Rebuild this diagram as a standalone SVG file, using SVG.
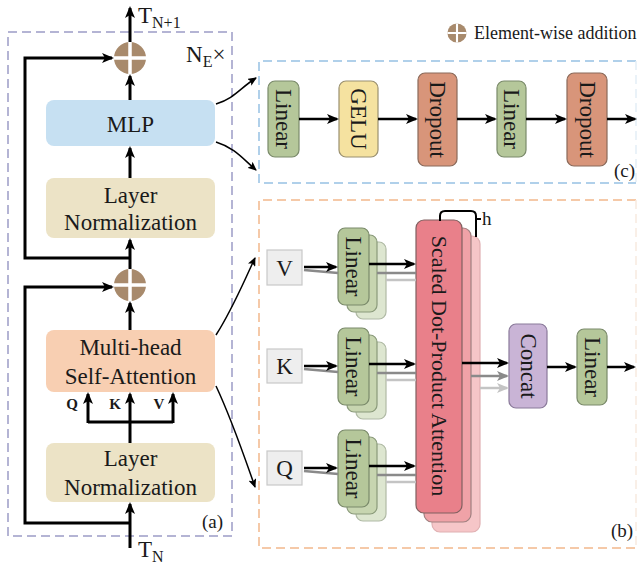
<svg xmlns="http://www.w3.org/2000/svg" width="638" height="570" viewBox="0 0 638 570" font-family="'Liberation Serif', 'Times New Roman', serif">
<style>
text{font-family:"Liberation Serif","Times New Roman",serif;fill:#1a1a1a}
.t20{font-size:23px}
.t18{font-size:19px}
.vt{font-size:23px;text-anchor:middle;dominant-baseline:central}
.ln{stroke:#000;stroke-width:3;fill:none}
.ln2{stroke:#000;stroke-width:2.5;fill:none}
.g1{stroke:#8a8a8a;stroke-width:2.5;fill:none}
.g2{stroke:#c4c4c4;stroke-width:2.5;fill:none}
.cv{stroke:#000;stroke-width:1.5;fill:none}
.lin{fill:#b5c79a;stroke:#7a8a6a;stroke-width:1.2}
.lin2{fill:#c7d5b0;stroke:#8a9a7a;stroke-width:1.2}
.lin3{fill:#dde6d0;stroke:#b0baa5;stroke-width:1.2}
</style>
<defs>
<marker id="ah" markerWidth="12" markerHeight="10" refX="10" refY="5" orient="auto" markerUnits="userSpaceOnUse"><path d="M0,0 L12,5 L0,10 L3,5 z" fill="#000"/></marker>
<marker id="ahg" markerWidth="12" markerHeight="10" refX="10" refY="5" orient="auto" markerUnits="userSpaceOnUse"><path d="M0,0 L12,5 L0,10 L3,5 z" fill="#8a8a8a"/></marker>
<marker id="ahl" markerWidth="12" markerHeight="10" refX="10" refY="5" orient="auto" markerUnits="userSpaceOnUse"><path d="M0,0 L12,5 L0,10 L3,5 z" fill="#c4c4c4"/></marker>
<marker id="ahs" markerWidth="9" markerHeight="8" refX="8" refY="4" orient="auto" markerUnits="userSpaceOnUse"><path d="M0,0 L9,4 L0,8 L2,4 z" fill="#000"/></marker>
<g id="plus"><circle r="16" fill="#a88a6c"/><path d="M-16,0 H16 M0,-16 V16" stroke="#fff" stroke-width="3.5"/></g>
</defs>

<!-- panel boxes -->
<rect id="panel-a" x="8" y="32" width="224" height="504" fill="none" stroke="#b4b4d4" stroke-width="2" stroke-dasharray="9 5"/>
<path id="panel-c" d="M636,61 H259 V183 H636" fill="none" stroke="#b0d0ea" stroke-width="2" stroke-dasharray="9 5"/>
<line x1="636" y1="61" x2="636" y2="183" stroke="#e4eef6" stroke-width="1.5" stroke-dasharray="9 5"/>
<path id="panel-b" d="M636,200 H259 V548 H636" fill="none" stroke="#f5c9a8" stroke-width="2" stroke-dasharray="9 5"/>
<line x1="636" y1="200" x2="636" y2="548" stroke="#f8eadf" stroke-width="1.5" stroke-dasharray="9 5"/>

<!-- legend -->
<g id="legend">
<use href="#plus" transform="translate(457,33) scale(0.6)"/>
<text x="474" y="39" style="font-size:18px">Element-wise addition</text>
</g>

<!-- panel a nodes -->
<g id="add-top"><use href="#plus" transform="translate(130,58)"/></g>
<g id="add-mid"><use href="#plus" transform="translate(130,285)"/></g>
<g id="mlp"><rect x="46" y="100" width="169" height="46" rx="8" fill="#c6e0f2"/><text x="130.5" y="132" class="t20" text-anchor="middle">MLP</text></g>
<g id="ln-top"><rect x="46" y="178" width="169" height="60" rx="8" fill="#ece3c6"/><text x="130.5" y="203" class="t20" text-anchor="middle">Layer</text><text x="130.5" y="230" class="t20" text-anchor="middle">Normalization</text></g>
<g id="mhsa"><rect x="46" y="330" width="169" height="62" rx="8" fill="#f8cfb2"/><text x="130.5" y="355" class="t20" text-anchor="middle">Multi-head</text><text x="130.5" y="384" class="t20" text-anchor="middle">Self-Attention</text></g>
<g id="ln-bot"><rect x="46" y="443" width="169" height="59" rx="8" fill="#ece3c6"/><text x="130.5" y="466" class="t20" text-anchor="middle">Layer</text><text x="130.5" y="495" class="t20" text-anchor="middle">Normalization</text></g>
<g id="labels-a">
<text x="138" y="23" class="t20">T<tspan dy="5" style="font-size:16px">N+1</tspan></text>
<text x="186" y="62" class="t20">N<tspan dy="5" style="font-size:16px">E</tspan><tspan dy="-5">×</tspan></text>
<text x="138" y="557" class="t20">T<tspan dy="5" style="font-size:16px">N</tspan></text>
<text x="202" y="528" class="t18">(a)</text>
<text x="72" y="409" text-anchor="middle" style="font-size:15px;font-weight:bold">Q</text>
<text x="115" y="409" text-anchor="middle" style="font-size:15px;font-weight:bold">K</text>
<text x="159" y="409" text-anchor="middle" style="font-size:15px;font-weight:bold">V</text>
</g>

<!-- panel c nodes -->
<g id="c-linear1"><rect x="268" y="81" width="31" height="76" rx="7" class="lin"/><text class="vt" transform="translate(283.5,119) rotate(90)">Linear</text></g>
<g id="c-gelu"><rect x="339" y="81" width="39" height="76" rx="7" fill="#f5e2a0" stroke="#9a9070" stroke-width="1.2"/><text class="vt" transform="translate(358.5,119) rotate(90)">GELU</text></g>
<g id="c-dropout1"><rect x="418" y="73" width="39" height="93" rx="7" fill="#d8957a" stroke="#8a6a5a" stroke-width="1.2"/><text class="vt" transform="translate(437.5,119.5) rotate(90)">Dropout</text></g>
<g id="c-linear2"><rect x="497" y="81" width="29" height="76" rx="7" class="lin"/><text class="vt" transform="translate(511.5,119) rotate(90)">Linear</text></g>
<g id="c-dropout2"><rect x="567" y="73" width="40" height="93" rx="7" fill="#d8957a" stroke="#8a6a5a" stroke-width="1.2"/><text class="vt" transform="translate(587,119.5) rotate(90)">Dropout</text></g>
<text x="614" y="177" class="t18">(c)</text>

<!-- panel b nodes -->
<g id="b-v"><rect x="267" y="250" width="35" height="35" fill="#eeeeee" stroke="#c8c8c8" stroke-width="1.2"/><text x="284.5" y="276" class="t20" text-anchor="middle">V</text></g>
<g id="b-k"><rect x="267" y="349" width="35" height="34" fill="#eeeeee" stroke="#c8c8c8" stroke-width="1.2"/><text x="284.5" y="374" class="t20" text-anchor="middle">K</text></g>
<g id="b-q"><rect x="267" y="451" width="35" height="34" fill="#eeeeee" stroke="#c8c8c8" stroke-width="1.2"/><text x="284.5" y="476" class="t20" text-anchor="middle">Q</text></g>

<g id="b-linear-v">
<rect x="356" y="242" width="30" height="77" rx="7" class="lin3"/>
<rect x="347" y="235" width="30" height="77" rx="7" class="lin2"/>
<rect x="338" y="228" width="31" height="77" rx="7" class="lin"/>
<text class="vt" transform="translate(353.5,266.5) rotate(90)">Linear</text>
</g>
<g id="b-linear-k">
<rect x="356" y="342" width="30" height="77" rx="7" class="lin3"/>
<rect x="347" y="335" width="30" height="77" rx="7" class="lin2"/>
<rect x="338" y="328" width="31" height="77" rx="7" class="lin"/>
<text class="vt" transform="translate(353.5,366.5) rotate(90)">Linear</text>
</g>
<g id="b-linear-q">
<rect x="356" y="444" width="30" height="77" rx="7" class="lin3"/>
<rect x="347" y="437" width="30" height="77" rx="7" class="lin2"/>
<rect x="338" y="430" width="31" height="77" rx="7" class="lin"/>
<text class="vt" transform="translate(353.5,468.5) rotate(90)">Linear</text>
</g>

<g id="b-sdpa">
<rect x="432" y="236" width="48" height="296" rx="8" fill="#f6c6c8" stroke="#e0b0b2" stroke-width="1.2"/>
<rect x="424" y="228" width="47" height="294" rx="8" fill="#f0a2a7" stroke="#a08080" stroke-width="1.2"/>
<rect x="416" y="220" width="46" height="293" rx="8" fill="#e9808a" stroke="#806060" stroke-width="1.2"/>
<text class="vt" transform="translate(439,366) rotate(90)" style="font-size:22px">Scaled Dot-Product Attention</text>
<path d="M440,221 V216 Q440,211 445,211 H471 Q476,211 476,216 V237 M476,219 H481" stroke="#000" stroke-width="2" fill="none"/>
<text x="482" y="225" class="t18">h</text>
</g>

<g id="b-concat"><rect x="509" y="324" width="38" height="84" rx="7" fill="#c9b4d6" stroke="#8a7a9a" stroke-width="1.2"/><text class="vt" transform="translate(528,366) rotate(90)">Concat</text></g>
<g id="b-linear-out"><rect x="577" y="329" width="30" height="76" rx="7" class="lin"/><text class="vt" transform="translate(592,367) rotate(90)">Linear</text></g>
<text x="611" y="537" class="t18">(b)</text>

<!-- connectors -->
<g id="connectors">
<line x1="130" y1="42" x2="130" y2="8" class="ln" marker-end="url(#ah)"/>
<line x1="130" y1="100" x2="130" y2="76" class="ln" marker-end="url(#ah)"/>
<line x1="130" y1="178" x2="130" y2="148" class="ln" marker-end="url(#ah)"/>
<line x1="130" y1="269" x2="130" y2="240" class="ln" marker-end="url(#ah)"/>
<path d="M130,258 H25 V58 H112" class="ln" marker-end="url(#ah)"/>
<line x1="130" y1="330" x2="130" y2="303" class="ln" marker-end="url(#ah)"/>
<path d="M130,523 H25 V287 H112" class="ln" marker-end="url(#ah)"/>
<line x1="130" y1="548" x2="130" y2="504" class="ln" marker-end="url(#ah)"/>
<line x1="130" y1="443" x2="130" y2="394" class="ln" marker-end="url(#ah)"/>
<path d="M88,422 H173" class="ln"/>
<line x1="88" y1="423" x2="88" y2="394" class="ln" marker-end="url(#ah)"/>
<line x1="173" y1="423" x2="173" y2="394" class="ln" marker-end="url(#ah)"/>
<path d="M216,104 C235,98 240,88 256,78" class="cv" marker-end="url(#ahs)"/>
<path d="M216,142 C235,148 242,158 256,170" class="cv" marker-end="url(#ahs)"/>
<path d="M216,335 C232,310 240,290 255,258" class="cv" marker-end="url(#ahs)"/>
<path d="M216,386 C232,420 242,450 255,487" class="cv" marker-end="url(#ahs)"/>
<line x1="299" y1="119" x2="337" y2="119" class="ln2" marker-end="url(#ah)"/>
<line x1="378" y1="119" x2="416" y2="119" class="ln2" marker-end="url(#ah)"/>
<line x1="457" y1="119" x2="495" y2="119" class="ln2" marker-end="url(#ah)"/>
<line x1="526" y1="119" x2="565" y2="119" class="ln2" marker-end="url(#ah)"/>
<line x1="607" y1="119" x2="635" y2="119" class="ln2" marker-end="url(#ah)"/>
<line x1="304" y1="270" x2="338" y2="273" class="g1"/>
<line x1="304" y1="267" x2="336" y2="267" class="ln2" marker-end="url(#ah)"/>
<line x1="304" y1="369" x2="338" y2="372" class="g1"/>
<line x1="304" y1="366" x2="336" y2="366" class="ln2" marker-end="url(#ah)"/>
<line x1="304" y1="471" x2="338" y2="474" class="g1"/>
<line x1="304" y1="468" x2="336" y2="468" class="ln2" marker-end="url(#ah)"/>
<line x1="386" y1="280" x2="416" y2="280" class="g2"/>
<line x1="377" y1="273" x2="416" y2="273" class="g1"/>
<line x1="369" y1="264" x2="414" y2="264" class="ln2" marker-end="url(#ah)"/>
<line x1="386" y1="380" x2="416" y2="380" class="g2"/>
<line x1="377" y1="373" x2="416" y2="373" class="g1"/>
<line x1="369" y1="364" x2="414" y2="364" class="ln2" marker-end="url(#ah)"/>
<line x1="386" y1="482" x2="416" y2="482" class="g2"/>
<line x1="377" y1="475" x2="416" y2="475" class="g1"/>
<line x1="369" y1="466" x2="414" y2="466" class="ln2" marker-end="url(#ah)"/>
<line x1="480" y1="388" x2="507" y2="388" class="g2" marker-end="url(#ahl)"/>
<line x1="471" y1="376" x2="507" y2="376" class="g1" marker-end="url(#ahg)"/>
<line x1="462" y1="363" x2="507" y2="363" class="ln2" marker-end="url(#ah)"/>
<line x1="547" y1="367" x2="575" y2="367" class="ln2" marker-end="url(#ah)"/>
<line x1="607" y1="367" x2="634" y2="367" class="ln2" marker-end="url(#ah)"/>
</g>
</svg>
